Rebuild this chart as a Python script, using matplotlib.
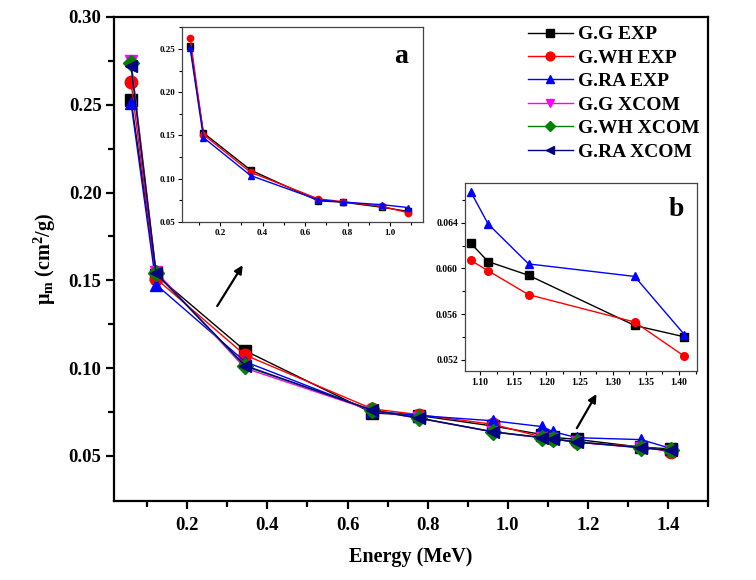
import numpy as np
import matplotlib
matplotlib.use('Agg')
import matplotlib.pyplot as plt
from matplotlib.ticker import MultipleLocator, FixedLocator, FormatStrFormatter

plt.rcParams['font.family'] = ['Liberation Serif', 'DejaVu Serif']
plt.rcParams['font.weight'] = 'bold'
plt.rcParams['mathtext.fontset'] = 'custom'
plt.rcParams['mathtext.rm'] = 'Liberation Serif:bold'
plt.rcParams['mathtext.it'] = 'Liberation Serif:bold'
plt.rcParams['mathtext.bf'] = 'Liberation Serif:bold'

# photon energies (MeV)
energy = [0.0595, 0.122, 0.344, 0.662, 0.779, 0.964, 1.086, 1.112, 1.173, 1.333, 1.408]

# mass attenuation coefficients (cm2/g)
gg_exp = [0.253, 0.153, 0.110, 0.0745, 0.0730, 0.0670, 0.0622, 0.0606, 0.0594, 0.0550, 0.0540]
gwh_exp = [0.263, 0.151, 0.1075, 0.0768, 0.0735, 0.0680, 0.0607, 0.0598, 0.0577, 0.0553, 0.0523]
gra_exp = [0.251, 0.1476, 0.1037, 0.0756, 0.0730, 0.0700, 0.0667, 0.0639, 0.0604, 0.0593, 0.0542]
gg_xcom = [0.275, 0.155, 0.1000, 0.0758, 0.0714, 0.0636, 0.0603, 0.0596, 0.0578, 0.0546, 0.0530]
gwh_xcom = [0.274, 0.154, 0.1010, 0.0762, 0.0716, 0.0638, 0.0605, 0.0598, 0.0580, 0.0548, 0.0532]
gra_xcom = [0.272, 0.154, 0.1015, 0.0760, 0.0715, 0.0637, 0.0604, 0.0597, 0.0579, 0.0547, 0.0531]

series = [
    ('G.G EXP', gg_exp, 'black', 's'),
    ('G.WH EXP', gwh_exp, 'red', 'o'),
    ('G.RA EXP', gra_exp, 'blue', '^'),
    ('G.G XCOM', gg_xcom, 'magenta', 'v'),
    ('G.WH XCOM', gwh_xcom, '#008000', 'D'),
    ('G.RA XCOM', gra_xcom, '#000080', '<'),
]

fig = plt.figure(figsize=(7.56, 5.8), dpi=100)
ax = fig.add_axes([0.1508, 0.1367, 0.7857, 0.834])

for name, vals, col, mk in series:
    ms = 8 if mk == 'D' else 9
    ax.plot(energy, vals, color=col, marker=mk, markersize=ms, linewidth=1, label=name)

ax.set_xlim(0.017, 1.5)
ax.set_ylim(0.0245, 0.30)
ax.set_xticks([0.2, 0.4, 0.6, 0.8, 1.0, 1.2, 1.4])
ax.xaxis.set_minor_locator(MultipleLocator(0.1))
ax.yaxis.set_major_locator(MultipleLocator(0.05))
ax.yaxis.set_minor_locator(FixedLocator([0.075, 0.125, 0.175, 0.225, 0.275]))
ax.yaxis.set_major_formatter(FormatStrFormatter('%.2f'))
ax.xaxis.set_major_formatter(FormatStrFormatter('%.1f'))
for s in ax.spines.values():
    s.set_linewidth(1.6)
ax.tick_params(which='major', direction='out', length=6, width=1.6, labelsize=13.5, pad=3)
ax.tick_params(which='minor', direction='out', length=4, width=1.6)
ax.tick_params(axis='x', pad=6)

ax.set_xlabel('Energy (MeV)', fontsize=14.5, fontweight='bold', labelpad=9)
ax.set_ylabel(r'$\mu_m$ (cm$^2$/g)', fontsize=14.5, fontweight='bold', labelpad=8)

ax.legend(loc='upper right', bbox_to_anchor=(1.0, 1.0), frameon=False, fontsize=14,
          handlelength=2.3, handletextpad=0.25, labelspacing=0.3, borderpad=0.35,
          borderaxespad=0.1, markerscale=0.7)

# arrows pointing to insets
ax.annotate('', xy=(0.342, 0.160), xytext=(0.271, 0.134),
            arrowprops=dict(arrowstyle='-|>', color='black', lw=1.6, mutation_scale=12))
ax.annotate('', xy=(1.225, 0.0866), xytext=(1.169, 0.0644),
            arrowprops=dict(arrowstyle='-|>', color='black', lw=1.6, mutation_scale=12))

# inset a
axa = fig.add_axes([0.2407, 0.6172, 0.3188, 0.3357])
for name, vals, col, mk in series[:3]:
    axa.plot(energy[:7], vals[:7], color=col, marker=mk, markersize=4.5, linewidth=1)
axa.set_xlim(0.021, 1.155)
axa.set_ylim(0.05, 0.275)
axa.set_xticks([0.2, 0.4, 0.6, 0.8, 1.0])
axa.xaxis.set_minor_locator(MultipleLocator(0.1))
axa.yaxis.set_major_locator(MultipleLocator(0.05))
axa.yaxis.set_minor_locator(MultipleLocator(0.025))
axa.xaxis.set_major_formatter(FormatStrFormatter('%.1f'))
axa.yaxis.set_major_formatter(FormatStrFormatter('%.2f'))
axa.tick_params(which='both', direction='out', labelsize=6.5, width=0.8, pad=2)
axa.tick_params(which='major', length=3)
axa.tick_params(which='minor', length=2)
for s in axa.spines.values():
    s.set_linewidth(0.9)
    s.set_color('#444444')
axa.text(0.91, 0.85, 'a', transform=axa.transAxes, fontsize=20, fontweight='bold',
         ha='center', va='center')

# inset b
axb = fig.add_axes([0.615, 0.3603, 0.3069, 0.3242])
for name, vals, col, mk in series[:3]:
    axb.plot(energy[6:], vals[6:], color=col, marker=mk, markersize=5.5, linewidth=1)
axb.set_xlim(1.077, 1.427)
axb.set_ylim(0.051, 0.0675)
axb.xaxis.set_major_locator(MultipleLocator(0.05))
axb.xaxis.set_minor_locator(MultipleLocator(0.025))
axb.yaxis.set_major_locator(MultipleLocator(0.004))
axb.yaxis.set_minor_locator(MultipleLocator(0.002))
axb.xaxis.set_major_formatter(FormatStrFormatter('%.2f'))
axb.yaxis.set_major_formatter(FormatStrFormatter('%.3f'))
axb.tick_params(which='both', direction='out', labelsize=7, width=0.8, pad=2)
axb.tick_params(which='major', length=3)
axb.tick_params(which='minor', length=2)
for s in axb.spines.values():
    s.set_linewidth(0.9)
    s.set_color('#444444')
axb.text(0.91, 0.86, 'b', transform=axb.transAxes, fontsize=20, fontweight='bold',
         ha='center', va='center')

plt.savefig('out.png', dpi=100)
plt.close()
